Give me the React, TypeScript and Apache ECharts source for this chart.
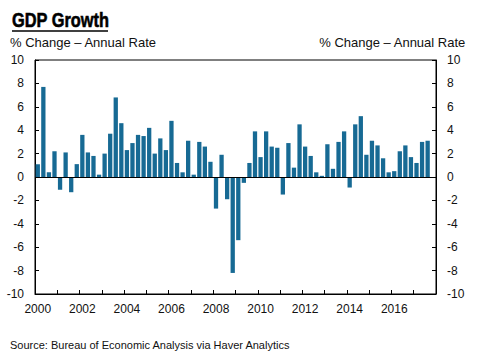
import React, { useEffect, useRef } from "react";
import * as echarts from "echarts";

const years: number[] = [2000, 2001, 2002, 2003, 2004, 2005, 2006, 2007, 2008, 2009, 2010, 2011, 2012, 2013, 2014, 2015, 2016, 2017];
const quarters: string[] = ["Q1", "Q2", "Q3", "Q4"];
const categories: string[] = years.flatMap((y) => quarters.map((q) => `${y}${q}`));

// GDP growth, % change annual rate, 2000Q1 .. 2017Q3
const gdpGrowth: number[] = [
  1.1, 7.7, 0.4, 2.2,
  -1.1, 2.1, -1.3, 1.1,
  3.6, 2.1, 1.8, 0.2,
  2.0, 3.7, 6.8, 4.6,
  2.3, 2.9, 3.6, 3.5,
  4.2, 2.0, 3.3, 2.3,
  4.8, 1.2, 0.4, 3.1,
  0.2, 3.0, 2.6, 1.3,
  -2.7, 1.9, -1.9, -8.2,
  -5.4, -0.5, 1.2, 3.9,
  1.7, 3.9, 2.6, 2.5,
  -1.5, 2.9, 0.8, 4.5,
  2.6, 1.8, 0.4, 0.1,
  2.8, 0.7, 3.0, 3.9,
  -0.9, 4.5, 5.2, 1.9,
  3.1, 2.7, 1.6, 0.4,
  0.5, 2.2, 2.7, 1.7,
  1.2, 3.0, 3.1,
];

const yTicks = { min: -10, max: 10, interval: 2 };

const title = "GDP Growth";
const subtitle = "% Change \u2013 Annual Rate";
const source = "Source: Bureau of Economic Analysis via Haver Analytics";

const FONT = "'Liberation Sans', Arial, Helvetica, sans-serif";

export default function App() {
  const ref = useRef<HTMLDivElement>(null);

  useEffect(() => {
    if (!ref.current) return;
    const chart = echarts.init(ref.current, null, { renderer: "svg" });
    const axisLabelBase = { color: "#111", fontSize: 12, fontFamily: FONT };
    chart.setOption({
      animation: false,
      backgroundColor: "#fff",
      grid: {
        left: 35,
        right: 46,
        top: 60,
        bottom: 66,
        show: true,
        borderColor: "#000",
        borderWidth: 1,
        backgroundColor: "transparent",
      },
      graphic: [
        {
          type: "text",
          x: 12,
          y: 9,
          scaleX: 0.78,
          style: {
            text: title,
            fontSize: 21,
            fontWeight: 900,
            fontFamily: FONT,
            fill: "#000",
            stroke: "#000",
            lineWidth: 0.6,
          },
        },
        {
          type: "line",
          shape: { x1: 12, y1: 31, x2: 108, y2: 31 },
          style: { stroke: "#000", lineWidth: 1.5 },
        },
        {
          type: "text",
          left: 10,
          top: 36,
          style: { text: subtitle, fontSize: 13, fontFamily: FONT, fill: "#111" },
        },
        {
          type: "text",
          right: 16,
          top: 36,
          style: { text: subtitle, fontSize: 13, fontFamily: FONT, fill: "#111" },
        },
        {
          type: "text",
          left: 10,
          top: 339,
          style: { text: source, fontSize: 11, fontFamily: FONT, fill: "#111" },
        },
      ],
      xAxis: {
        type: "category",
        data: categories,
        boundaryGap: true,
        axisLine: { show: true, onZero: false, lineStyle: { color: "#000", width: 1 } },
        axisTick: {
          show: true,
          inside: true,
          length: 4,
          interval: (i: number) => i % 4 === 0,
          lineStyle: { color: "#000" },
        },
        axisLabel: {
          ...axisLabelBase,
          margin: 9,
          interval: (i: number) => i % 8 === 0,
          formatter: (v: string) => v.slice(0, 4),
        },
        splitLine: { show: false },
      },
      yAxis: [
        {
          type: "value",
          position: "left",
          min: yTicks.min,
          max: yTicks.max,
          interval: yTicks.interval,
          axisLine: { show: true, lineStyle: { color: "#000" } },
          axisTick: { show: true, inside: true, length: 4, lineStyle: { color: "#000" } },
          axisLabel: { ...axisLabelBase, margin: 11 },
          splitLine: { show: false },
        },
        {
          type: "value",
          position: "right",
          min: yTicks.min,
          max: yTicks.max,
          interval: yTicks.interval,
          axisLine: { show: true, lineStyle: { color: "#000" } },
          axisTick: { show: true, inside: true, length: 4, lineStyle: { color: "#000" } },
          axisLabel: { ...axisLabelBase, margin: 11 },
          splitLine: { show: false },
        },
      ],
      series: [
        {
          type: "bar",
          data: gdpGrowth,
          yAxisIndex: 0,
          barCategoryGap: "23%",
          itemStyle: { color: "#176a94" },
          markLine: {
            silent: true,
            symbol: "none",
            label: { show: false },
            lineStyle: { color: "#000", width: 1, type: "solid" },
            data: [{ yAxis: 0 }],
          },
        },
      ],
    });
    return () => chart.dispose();
  }, []);

  return <div ref={ref} style={{ width: 482, height: 360, position: "absolute", left: 0, top: 0 }} />;
}
